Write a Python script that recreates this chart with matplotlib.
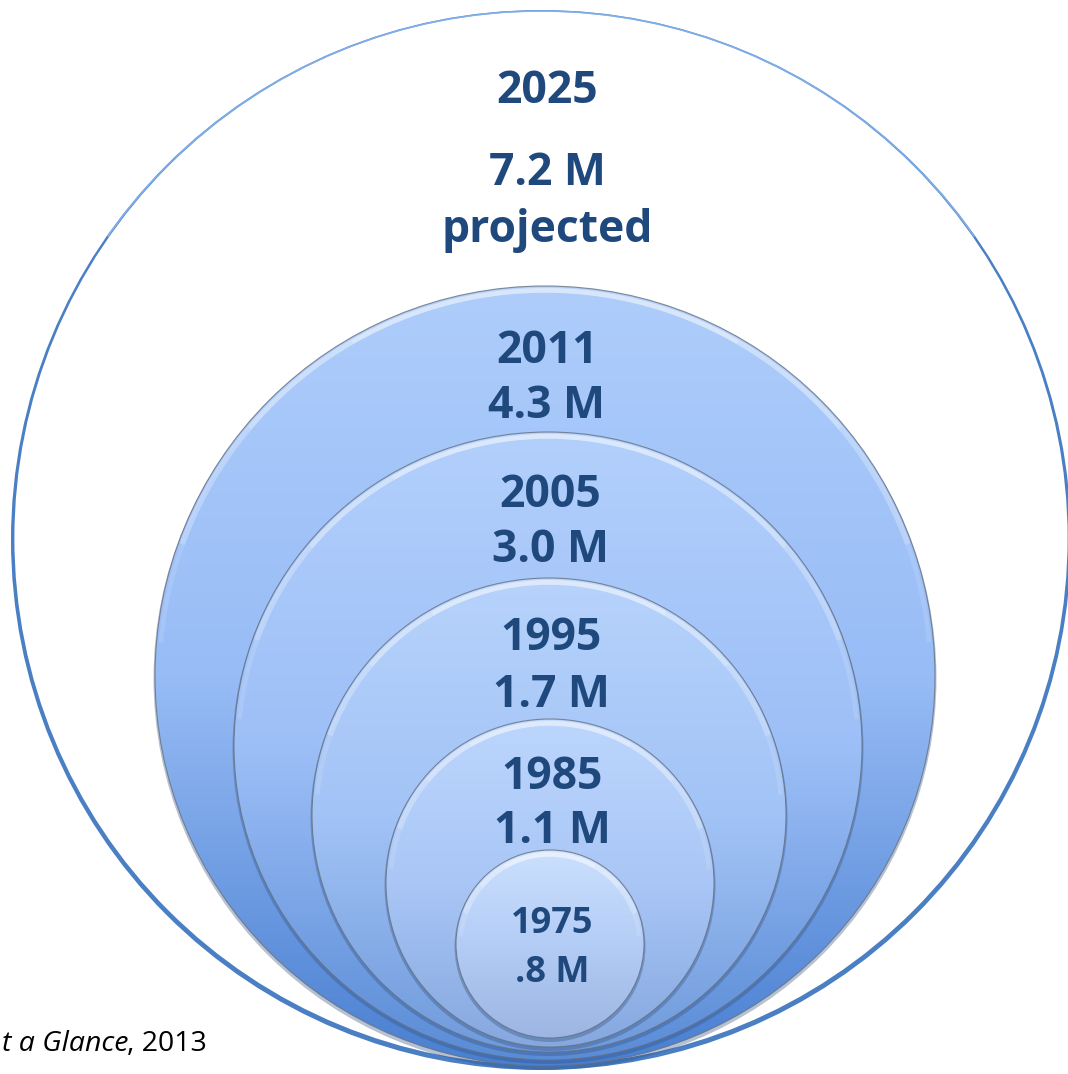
import matplotlib.pyplot as plt
from matplotlib.patches import Circle, Arc
from matplotlib.colors import LinearSegmentedColormap
import numpy as np

# data, smallest circle first
years = [1975, 1985, 1995, 2005, 2011, 2025]
millions = [0.8, 1.1, 1.7, 3.0, 4.3, 7.2]
notes = ["", "", "", "", "", "projected"]
source_italic = "t a Glance"
source_tail = ", 2013"

# layout, in pixels of the output picture
centers = [(550, 944), (550, 883), (549, 815), (548, 746), (545, 676), (541, 540)]
radii = [94, 164, 237, 314, 390, 530]
year_y = [933, 789, 650, 507, 363, 103]
value_y = [982, 843, 707, 562, 418, 185]
tops = ["#cbe0fe", "#bcd6fd", "#b7d3fc", "#b3d0fc", "#aecdfb"]
mids = ["#b4cdf6", "#a9c6f6", "#a2c3f6", "#9dbff7", "#98bcf6"]
bottoms = ["#9cb5e2", "#86a8df", "#6f9adb", "#5a8cd6", "#4a80d1"]

TEXT = "#1f497d"
FONT = ["Open Sans", "DejaVu Sans"]
W, H = 1068, 1074


def fmt_value(v):
    s = "%.1f" % v
    if s.startswith("0"):
        s = s[1:]
    return s + " M"


def gradient_circle(ax, c, r, top, mid, bottom, z):
    cx, cy = c
    # soft shadow under the disc
    ax.add_patch(Circle((cx, cy + 2.5), r + 1.5, fc="#2f4f80", ec="none",
                        alpha=0.35, zorder=z))
    cmap = LinearSegmentedColormap.from_list("g", [(0, top), (0.5, mid), (1, bottom)])
    grad = np.linspace(0, 1, 256).reshape(-1, 1)
    im = ax.imshow(grad, cmap=cmap, extent=(cx - r, cx + r, cy + r, cy - r),
                   origin="upper", aspect="auto", interpolation="bicubic", zorder=z)
    clip = Circle(c, r, transform=ax.transData, fc="none", ec="none")
    im.set_clip_path(clip)
    # soft white bevel along the upper rim, fading towards the sides
    for t1, t2, a in [(240, 300, 0.22), (220, 320, 0.2), (200, 340, 0.18), (185, 355, 0.12)]:
        ax.add_patch(Arc(c, 2 * (r - 4.5), 2 * (r - 4.5), theta1=t1, theta2=t2,
                         color="white", lw=3.2, alpha=a, zorder=z))
    ax.add_patch(Arc(c, 2 * (r - 2), 2 * (r - 2), theta1=200, theta2=340,
                     color="white", lw=1.0, alpha=0.25, zorder=z))
    ax.add_patch(Circle(c, r, fc="none", ec="#66707f", lw=0.8, alpha=0.8, zorder=z))


fig = plt.figure(figsize=(W / 100, H / 100), dpi=100)
ax = fig.add_axes([0, 0, 1, 1])

# outer ring (projection), white with a blue rim
ocx, ocy = centers[-1]
orad = radii[-1]
ax.add_patch(Circle((ocx, ocy), orad, fc="#4a7fc4", ec="none", zorder=1))
ax.add_patch(Circle((ocx, ocy - 1.8), orad - 3.4, fc="white", ec="none", zorder=1))
ax.add_patch(Arc((ocx, ocy), 2 * orad - 2, 2 * orad - 2, theta1=215, theta2=325,
                 color="#8db9f0", lw=1.2, alpha=0.8, zorder=1))

# filled discs, largest first
for i in range(len(years) - 2, -1, -1):
    gradient_circle(ax, centers[i], radii[i], tops[i], mids[i], bottoms[i], z=2 + (5 - i))

for i in range(len(years)):
    size = 26 if i == 0 else 32
    x = centers[i][0] + 2 if i < len(years) - 1 else centers[i][0] + 6
    ax.text(x, year_y[i], str(years[i]), ha="center", va="baseline",
            fontsize=size, fontweight="bold", color=TEXT, family=FONT, zorder=20)
    ax.text(x, value_y[i], fmt_value(millions[i]), ha="center", va="baseline",
            fontsize=size, fontweight="bold", color=TEXT, family=FONT, zorder=20)
    if notes[i]:
        ax.text(x, value_y[i] + 57, notes[i], ha="center", va="baseline",
                fontsize=size, fontweight="bold", color=TEXT, family=FONT, zorder=20)

src = ax.text(2, 1051, source_italic, ha="left", va="baseline", fontsize=20.5,
              style="italic", color="black", family=FONT, zorder=20)
ax.annotate(source_tail, xy=(1, 0), xycoords=src, xytext=(-1, 0),
            textcoords="offset points", ha="left", va="bottom", fontsize=20.5,
            color="black", family=FONT, zorder=20)

ax.set_xlim(0, W)
ax.set_ylim(H, 0)
ax.axis("off")
fig.savefig("out.png", dpi=100, facecolor="white")
